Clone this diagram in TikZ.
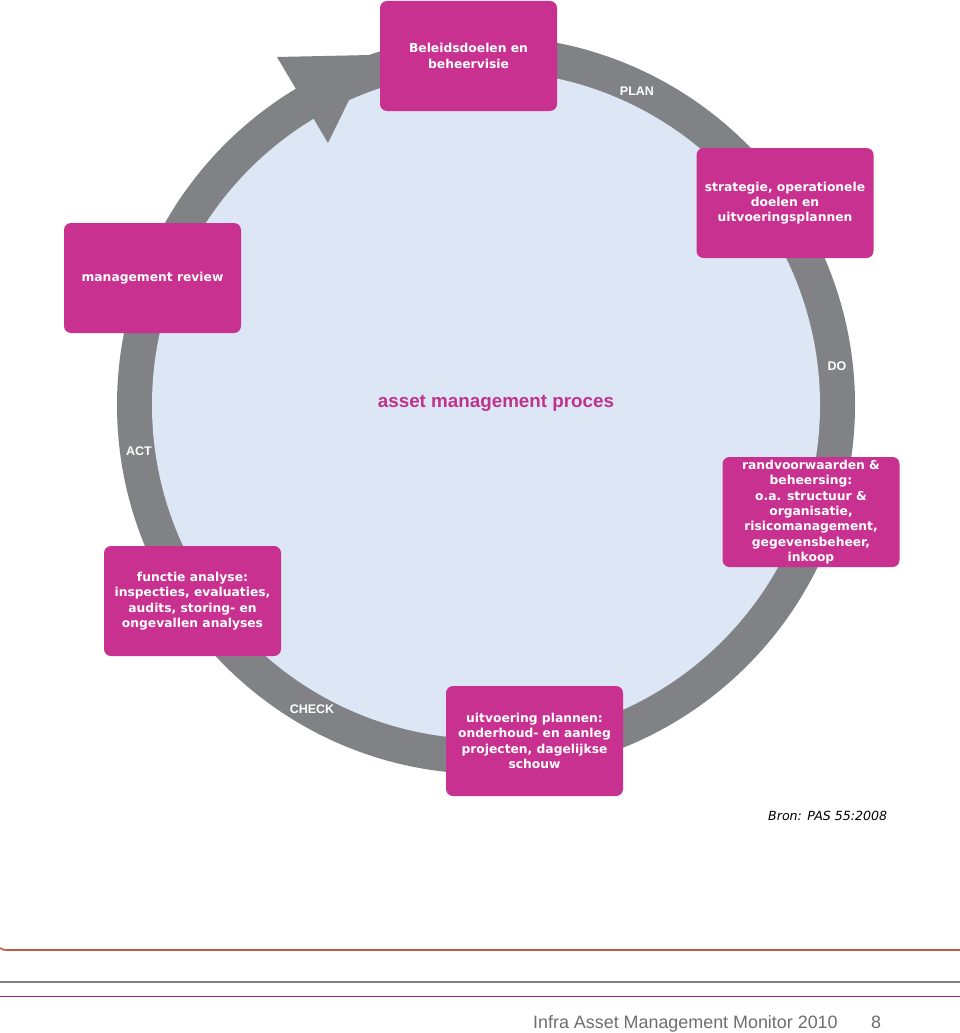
\documentclass[tikz,border=0pt]{standalone}
\usepackage{fontspec}
\setmainfont{DejaVu Sans}
\newfontfamily\arialf{Liberation Sans}
\definecolor{ringgray}{RGB}{129,130,134}
\definecolor{lightbg}{RGB}{221,230,244}
\definecolor{boxmag}{RGB}{200,49,143}
\definecolor{titlemag}{RGB}{190,52,140}
\definecolor{footgray}{RGB}{110,110,114}
\definecolor{lineorange}{RGB}{196,88,68}
\definecolor{linegray}{RGB}{128,128,128}
\definecolor{linepurple}{RGB}{150,40,150}
\begin{document}
\begin{tikzpicture}[x=1pt,y=-1pt,
  box/.style={fill=boxmag, rounded corners=7pt, minimum width=177pt, minimum height=110pt,
    inner sep=0pt, align=center, text=white, font=\bfseries\fontsize{12.3}{15.3}\selectfont},
  phase/.style={text=white, font=\arialf\bfseries\fontsize{12.5}{14}\selectfont, inner sep=0pt},
  footline/.style={line width=1.6pt}]
\useasboundingbox (0,0) rectangle (960,1033);
\fill[white] (0,0) rectangle (960,1033);
% ring
\coordinate (c) at (486,405);
\fill[ringgray] (c) circle[radius=369];
\fill[lightbg] (c) circle[radius=334];
% arrowhead
\fill[ringgray] (277,57) -- (371,55) -- (328,143) -- cycle;
% title
\node[text=titlemag, font=\arialf\bfseries\fontsize{18.8}{22}\selectfont, inner sep=0pt] (title) at (496,403) {asset management proces};
% phase labels
\node[phase] (plan) at (637,91) {PLAN};
\node[phase] (do) at (837,366) {DO};
\node[phase] (act) at (139,451) {ACT};
\node[phase] (check) at (312,709) {CHECK};
% boxes
\node[box] (b1) at (468.5,56) {Beleidsdoelen en\\beheervisie};
\node[box] (b2) at (785,203) {strategie, operationele\\doelen en\\uitvoeringsplannen};
\node[box] (b3) at (152.5,278) {management review};
\node[box] (b4) at (811,512) {randvoorwaarden \&\\beheersing:\\o.a. structuur \&\\organisatie,\\risicomanagement,\\gegevensbeheer,\\inkoop};
\node[box] (b5) at (192.5,601) {functie analyse:\\inspecties, evaluaties,\\audits, storing- en\\ongevallen analyses};
\node[box] (b6) at (534.5,741) {uitvoering plannen:\\onderhoud- en aanleg\\projecten, dagelijkse\\schouw};
% source
\node[anchor=base west, inner sep=0pt, font=\itshape\fontsize{12.6}{14}\selectfont] (bron) at (768,820) {Bron: PAS 55:2008};
% footer lines
\draw[footline, lineorange] (0,948) .. controls (3,950) .. (10,950) -- (960,950);
\draw[footline, linegray] (0,982) -- (960,982);
\draw[footline, linepurple] (0,996.5) -- (960,996.5);
\node[anchor=base west, inner sep=0pt, text=footgray, font=\arialf\fontsize{17.9}{20}\selectfont] (foot) at (533,1028) {Infra Asset Management Monitor 2010};
\node[anchor=base west, inner sep=0pt, text=footgray, font=\arialf\fontsize{17.9}{20}\selectfont] (page) at (871,1028) {8};
\end{tikzpicture}
\end{document}
